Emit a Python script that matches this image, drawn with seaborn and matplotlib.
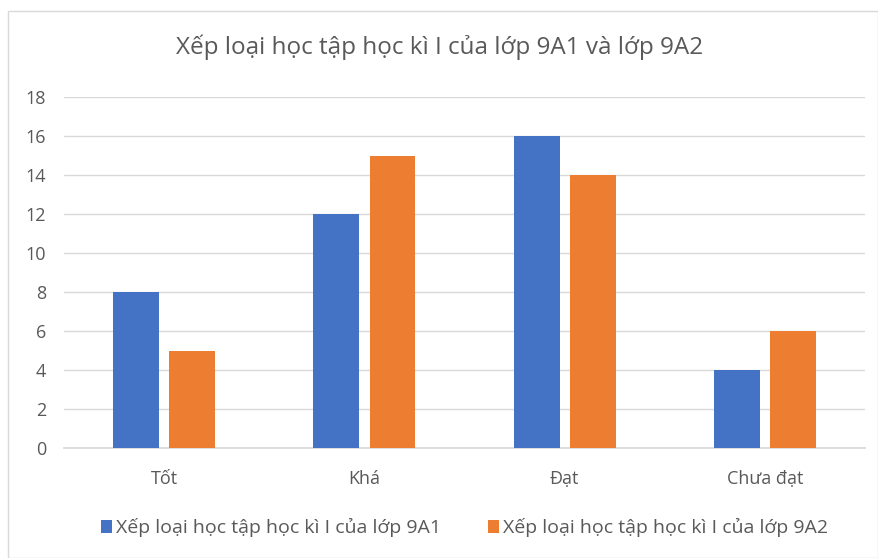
import matplotlib
matplotlib.use("Agg")
import matplotlib.pyplot as plt
from matplotlib.patches import Rectangle
import pandas as pd
import seaborn as sns

# Dữ liệu
xep_loai = ["Tốt", "Khá", "Đạt", "Chưa đạt"]
lop_9a1 = [8, 12, 16, 4]
lop_9a2 = [5, 15, 14, 6]
ten_9a1 = "Xếp loại học tập học kì I của lớp 9A1"
ten_9a2 = "Xếp loại học tập học kì I của lớp 9A2"
tieu_de = "Xếp loại học tập học kì I của lớp 9A1 và lớp 9A2"

df = pd.DataFrame({
    "xep_loai": xep_loai * 2,
    "so_hs": lop_9a1 + lop_9a2,
    "lop": [ten_9a1] * len(xep_loai) + [ten_9a2] * len(xep_loai),
})

sns.set_theme(style="white")
plt.rcParams["font.family"] = ["Open Sans", "DejaVu Sans"]
text_color = "#595959"

fig = plt.figure(figsize=(8.79, 5.58), dpi=100)
ax = fig.add_axes([0.073, 0.197, 0.911, 0.629])

sns.barplot(data=df, x="xep_loai", y="so_hs", hue="lop",
            palette=["#4472C4", "#ED7D31"], width=0.56, gap=0.18,
            saturation=1, linewidth=0, ax=ax, zorder=3)

ax.set_ylim(0, 18)
ax.set_yticks(range(0, 19, 2))
ax.yaxis.grid(True, color="#D9D9D9", linewidth=1, zorder=0)
ax.set_xlabel("")
ax.set_ylabel("")
for s in ["top", "right", "left"]:
    ax.spines[s].set_visible(False)
ax.spines["bottom"].set_color("#D9D9D9")
ax.tick_params(axis="both", length=0, colors=text_color, labelsize=13)
ax.tick_params(axis="x", pad=16)
ax.tick_params(axis="y", pad=13)

fig.text(0.5, 0.915, tieu_de, ha="center", va="center",
         fontsize=17.5, color=text_color)

leg = ax.legend(loc="upper center", bbox_to_anchor=(0.5, -0.15), ncol=2,
                frameon=False, fontsize=14, handlelength=0.6,
                handleheight=0.6, handletextpad=0.2, columnspacing=2.4)
for t in leg.get_texts():
    t.set_color(text_color)

fig.patches.append(Rectangle((0.009, 0.0), 0.99, 0.98, transform=fig.transFigure,
                             fill=False, edgecolor="#D9D9D9", linewidth=1))

fig.savefig("out.png", dpi=100)
